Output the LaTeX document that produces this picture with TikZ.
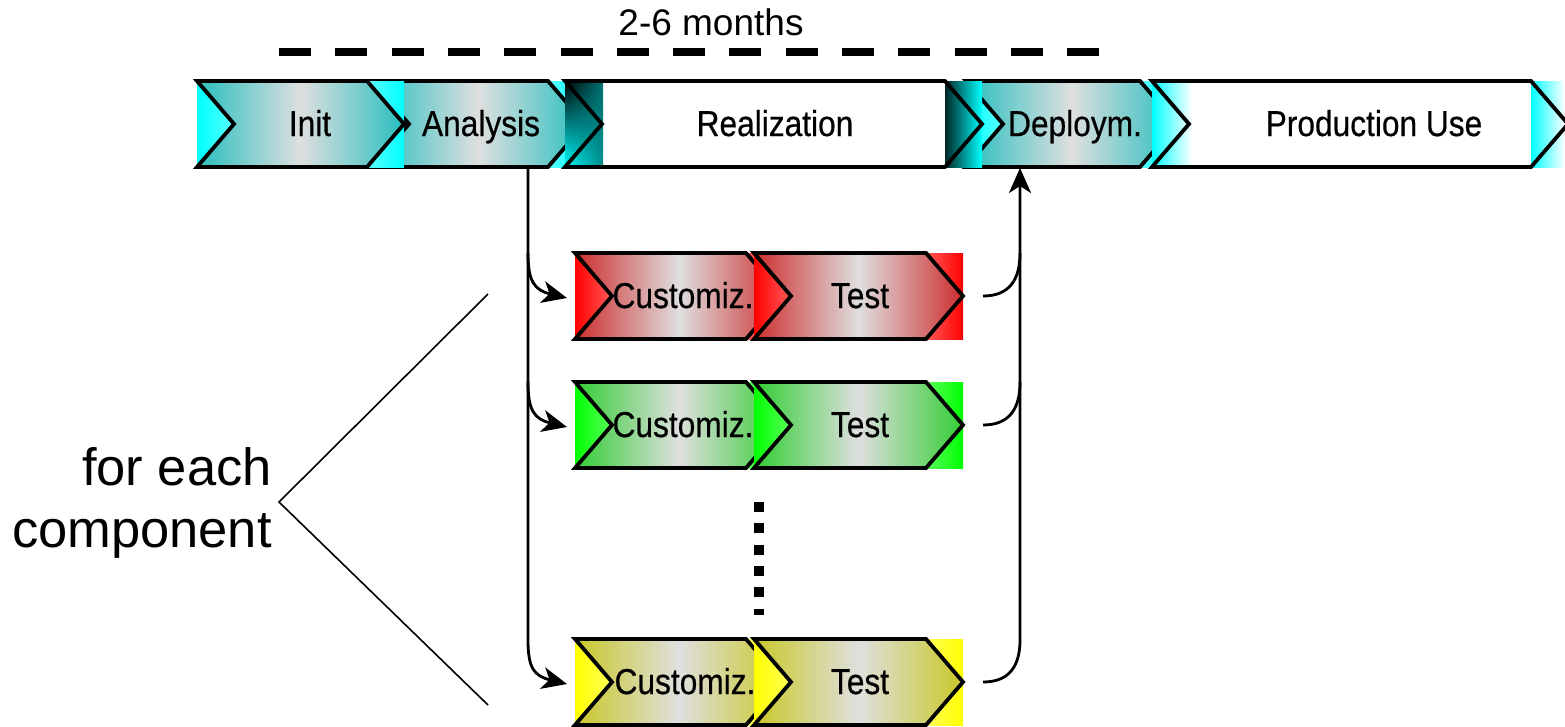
\documentclass[tikz,border=0pt]{standalone}
\usepackage{fontspec}
\setmainfont{Liberation Sans}
\newfontfamily\boxfont[FakeBold=0.5]{Liberation Sans}
\usetikzlibrary{arrows.meta,shadings}

\definecolor{brcyan}{RGB}{0,255,255}
\definecolor{brred}{RGB}{255,0,0}
\definecolor{brgreen}{RGB}{0,255,0}
\definecolor{bryellow}{RGB}{255,255,0}
\definecolor{tealdk}{RGB}{40,190,190}
\definecolor{reddk}{RGB}{205,45,45}
\definecolor{greendk}{RGB}{50,205,50}
\definecolor{yellowdk}{RGB}{200,200,40}

\tikzset{
  chevline/.style={draw=black, line width=3.8pt, line join=miter},
  conn/.style={draw=black, line width=2.8pt},
  tipped/.style={-{Stealth[length=25pt,width=22pt,inset=7pt]}},
  lbl/.style={inner sep=0pt, anchor=base, font=\boxfont\fontsize{36}{36}\selectfont},
}

% tinted chevron: left x, right x, centre y, outer colour, inner colour
\newcommand{\tintchev}[5]{%
  \shade[left color=#4, right color=#4, middle color=white] (#1,#3-43) rectangle (#2,#3+43);
  \shade[chevline, left color=#5, right color=#5, middle color=gray!25]
    (#1,#3-43) -- (#2-37,#3-43) -- (#2,#3) -- (#2-37,#3+43) -- (#1,#3+43) -- (#1+37,#3) -- cycle;
}
% plain chevron outline
\newcommand{\chevoutline}[3]{%
  \draw[chevline] (#1,#3-43) -- (#2-37,#3-43) -- (#2,#3) -- (#2-37,#3+43) -- (#1,#3+43) -- (#1+37,#3) -- cycle;
}
\newcommand{\narrow}[1]{\scalebox{0.88}[1]{#1}}

\begin{document}
\begin{tikzpicture}[x=1pt, y=-1pt]
\useasboundingbox (0,0) rectangle (1565,726);

% ---- duration bar ----
\coordinate (durA) at (279,52);
\coordinate (durB) at (1100,52);
\draw[line width=8pt, dash pattern=on 32pt off 24.3pt] (durA) -- (durB);
\node[inner sep=0pt, anchor=base, font=\fontsize{37}{37}\selectfont] (dur) at (711,35) {2-6 months};

% ---- main phase row ----
\tintchev{372}{585}{124}{brcyan}{tealdk}   % Analysis
\tintchev{966}{1177}{124}{brcyan}{tealdk}  % Deploym.
\tintchev{197}{404}{124}{brcyan}{tealdk}   % Init

% Realization
\fill[white] (565,81) rectangle (982,167);
\shade[upper left=black, upper right=black!55!brcyan, lower left=brcyan, lower right=black!45!brcyan] (565,81) rectangle (603,167);
\shade[left color=black!85!brcyan, right color=brcyan] (945,81) rectangle (982,167);
\chevoutline{565}{982}{124}

% Production Use
\fill[white] (1152,81) rectangle (1568,167);
\shade[left color=brcyan, right color=white] (1152,81) rectangle (1192,167);
\shade[left color=brcyan, right color=white] (1531,81) rectangle (1565,167);
\chevoutline{1152}{1568}{124}

\node[lbl] (init) at (310,136) {\narrow{Init}};
\node[lbl] (analysis) at (481,136) {\narrow{Analysis}};
\node[lbl] (realization) at (775,136) {\narrow{Realization}};
\node[lbl] (deploym) at (1075,136) {\narrow{Deploym.}};
\node[lbl] (production) at (1374,136) {\narrow{Production Use}};

% ---- per-component rows ----
\tintchev{575}{783}{296}{brred}{reddk}
\tintchev{754}{963}{296}{brred}{reddk}
\node[lbl] (cust1) at (683,308) {\narrow{Customiz.}};
\node[lbl] (test1) at (860,308) {\narrow{Test}};

\tintchev{575}{783}{425}{brgreen}{greendk}
\tintchev{754}{963}{425}{brgreen}{greendk}
\node[lbl] (cust2) at (683,437) {\narrow{Customiz.}};
\node[lbl] (test2) at (860,437) {\narrow{Test}};

\tintchev{575}{783}{682}{bryellow}{yellowdk}
\tintchev{754}{963}{682}{bryellow}{yellowdk}
\node[lbl] (cust3) at (685,694) {\narrow{Customiz.}};
\node[lbl] (test3) at (860,694) {\narrow{Test}};

% ellipsis between rows
\coordinate (dotsA) at (759,502);
\coordinate (dotsB) at (759,615);
\draw[line width=10pt, dash pattern=on 10pt off 11.3pt] (dotsA) -- (dotsB);

% ---- connectors ----
\coordinate (anaFoot) at (528,167);
\coordinate (depFoot) at (1020,168);
\coordinate (in1) at (567,298);
\coordinate (in2) at (567,427);
\coordinate (in3) at (567,684);
\coordinate (out1) at (983,296);
\coordinate (out2) at (983,425);
\coordinate (out3) at (983,682);
\coordinate (jl1) at (528,253);
\coordinate (jl2) at (528,382);
\coordinate (jl3) at (528,640);
\coordinate (jr1) at (1020,253);
\coordinate (jr2) at (1020,382);
\coordinate (jr3) at (1020,640);

\draw[conn, tipped] (anaFoot) -- (jl3) .. controls (528,668) and (534,676) .. (in3);
\draw[conn, tipped] (jl1) .. controls (528,281) and (534,290) .. (in1);
\draw[conn, tipped] (jl2) .. controls (528,410) and (534,419) .. (in2);

\draw[conn, tipped] (out3) .. controls (1010,682) and (1020,665) .. (jr3) -- (depFoot);
\draw[conn] (out1) .. controls (1010,296) and (1020,279) .. (jr1);
\draw[conn] (out2) .. controls (1010,425) and (1020,408) .. (jr2);

% ---- bracket and caption ----
\coordinate (brTop) at (488,294);
\coordinate (brTip) at (279,502);
\coordinate (brBot) at (488,705);
\draw[line width=1.6pt] (brTop) -- (brTip) -- (brBot);
\node[inner sep=0pt, anchor=base east, font=\fontsize{52.5}{52.5}\selectfont] (capA) at (272,485) {for each};
\node[inner sep=0pt, anchor=base east, font=\fontsize{52.5}{52.5}\selectfont] (capB) at (272,547) {component};
\end{tikzpicture}
\end{document}
